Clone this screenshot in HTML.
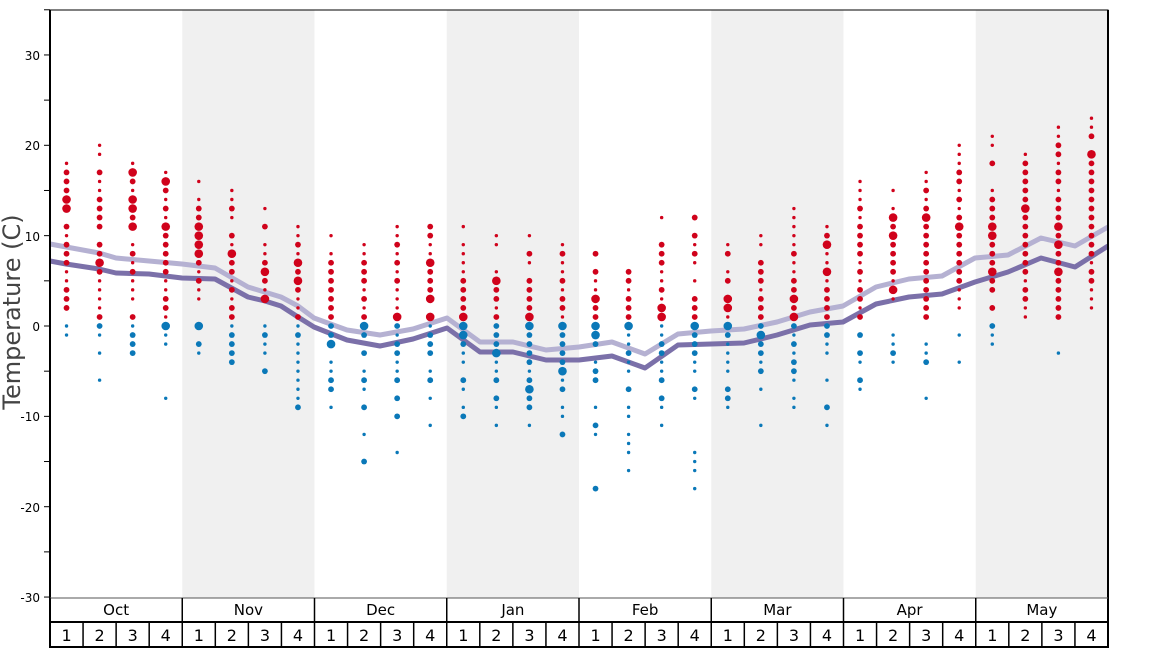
<!DOCTYPE html>
<html><head><meta charset="utf-8"><style>
html,body{margin:0;padding:0;background:#fff;}
svg{display:block;font-family:"DejaVu Sans","Liberation Sans",sans-serif;}
</style></head><body>
<svg id="s" width="1168" height="648" viewBox="0 0 1168 648" xmlns="http://www.w3.org/2000/svg">
<rect x="182.25" y="10" width="132.25" height="588" fill="#f0f0f0"/>
<rect x="446.75" y="10" width="132.25" height="588" fill="#f0f0f0"/>
<rect x="711.25" y="10" width="132.25" height="588" fill="#f0f0f0"/>
<rect x="975.75" y="10" width="132.25" height="588" fill="#f0f0f0"/>
<g id="ticks" stroke="#000" stroke-width="1"></g>
<g font-size="12" text-anchor="end" fill="#000">
<text x="40" y="60">30</text><text x="40" y="150">20</text><text x="40" y="241">10</text>
<text x="40" y="331">0</text><text x="40" y="421">-10</text><text x="40" y="512">-20</text><text x="40" y="602">-30</text>
</g>
<text transform="translate(20,312) rotate(-90)" font-size="24" text-anchor="middle" fill="#444">Temperature (C)</text>
<polyline fill="none" stroke="#b5b1d2" stroke-width="5" stroke-linejoin="round" points="50,244 99,253 116,258 149,261 182,264 215,268 248,287 281,297 298,306 314,318 347,330 380,335 413,329 447,318 480,342 513,342 546,350 579,347 612,342 645,354 678,334 711,331 744,329 777,322 810,312 843,306 876,287 909,279 942,276 975,258 1008,255 1041,238 1075,246 1108,227"/>
<polyline fill="none" stroke="#7b70a9" stroke-width="5" stroke-linejoin="round" points="50,261 66,264 99,269 116,273 149,274 182,278 215,279 248,297 265,301 281,306 298,317 314,327 347,340 380,346 413,339 447,328 480,352 513,352 546,360 579,360 612,356 645,368 678,345 711,344 744,343 777,335 810,325 843,322 876,304 909,297 942,294 975,282 1008,272 1041,258 1075,267 1108,246"/>
<g id="dots"></g>
<rect x="50" y="10" width="1058" height="588" fill="none" stroke="#000" stroke-width="1"/>
<line x1="50" y1="10" x2="50" y2="648" stroke="#000" stroke-width="2"/>
<line x1="1108" y1="10" x2="1108" y2="648" stroke="#000" stroke-width="2"/>
<line x1="50" y1="598" x2="1108" y2="598" stroke="#555" stroke-width="1"/>
<line x1="50" y1="622" x2="1108" y2="622" stroke="#000" stroke-width="2"/>
<line x1="50" y1="647" x2="1108" y2="647" stroke="#000" stroke-width="2"/>
<g id="axis" font-size="16" text-anchor="middle" fill="#000"></g>
</svg>
<script>
var ns="http://www.w3.org/2000/svg";
function el(t,a,p,txt){var e=document.createElementNS(ns,t);for(var k in a)e.setAttribute(k,a[k]);if(txt)e.textContent=txt;document.getElementById(p).appendChild(e);}
var Y=function(v){return 326-v*9.035;};
for(var v=-30;v<=35;v+=5){el('line',{x1:44,x2:50,y1:Y(v),y2:Y(v)},'ticks');}
var months=["Oct","Nov","Dec","Jan","Feb","Mar","Apr","May"],mw=132.25,ww=mw/4;
months.forEach(function(m,i){var x0=50+i*mw;
el('text',{x:x0+mw/2,y:615,'font-size':15},'axis',m);
el('line',{x1:x0,x2:x0,y1:598,y2:622,stroke:'#000','stroke-width':1.5},'axis');
for(var w=0;w<4;w++){var wx=x0+w*ww;el('line',{x1:wx,x2:wx,y1:622,y2:648,stroke:'#000','stroke-width':1.5},'axis');
el('text',{x:wx+ww/2,y:641},'axis',String(w+1));}});
var D=[
"18s 17m 16m 15m 14l 13l 11m 10s 9m 8m 7m 6s 5s 4m 3m 2m 0s -1s",
"20s 19s 17m 16s 15s 14m 13m 12m 11m 9m 8m 7l 6m 5s 4s 3s 2s 1m 0m -1s -3s -6s",
"18s 17l 16m 15s 14l 13l 12m 11l 9s 8m 7s 6m 5s 4s 3s 1m 0s -1m -2m -3m",
"17s 16l 15m 14s 13m 12s 11l 10m 9m 8m 7m 6m 5s 4s 3m 2m 1s 0l -1s -2s -8s",
"16s 14s 13m 12m 11l 10l 9l 8l 7m 6s 5m 4s 3s 0l -2m -3s",
"15s 14s 13m 12s 10m 9s 8l 7m 6m 5s 4m 3s 2m 1m 0s -1m -2m -3m -4m",
"13s 11m 9s 8s 7m 6l 5m 4s 3l 0s -1m -2s -3s -5m",
"11s 10s 9m 8s 7l 6m 5l 4m 3s 2s 1m 0s -1m -2s -3s -4s -5s -6s -7s -8s -9m",
"10s 8s 7m 6m 5m 4m 3m 2m 1m 0m -1m -2l -4s -5s -6m -7m -9s",
"9s 8s 7m 6m 5m 4s 3m 2s 1m 0l -1m -3m -5s -6m -7s -9m -12s -15m",
"11s 10s 9m 8s 7m 6s 5m 4s 3s 2s 1l 0m -1s -2m -3m -4s -5s -6m -8m -10m -14s",
"11m 10m 9s 8s 7l 6m 5m 4m 3l 1l 0s -1m -2m -3m -5s -6m -8s -11s",
"11s 9s 8s 7s 6s 5m 4m 3m 2m 1l 0l -1l -2m -3s -4s -6m -7s -9s -10m",
"10s 9s 6s 5l 4m 3m 2s 1m 0m -1m -2m -3l -4s -5s -6m -8m -9s -11s",
"10s 8m 7s 5m 4m 3m 2m 1l 0l -1m -2m -3m -4m -5s -6m -7l -8m -9m -11s",
"9s 8m 7s 6s 5m 4s 3m 2m 1s 0l -1m -2m -3m -4m -5l -6s -7m -9s -10s -12m",
"8m 6m 5s 4s 3l 2m 1m 0l -1l -2m -4s -5m -6m -9s -11m -12s -18m",
"6m 5m 4s 3m 2m 1m 0l -1s -2s -3m -4s -5s -7m -9s -10s -12s -13s -14s -16s",
"12s 9m 8m 7m 6s 5s 4m 3s 2l 1l 0s -1s -2m -3m -4s -5s -6m -8m -9s -11s",
"12m 10m 9s 8m 7s 5s 3m 2m 1m 0l -1m -2m -3m -4s -5s -7m -8s -14s -15s -16s -18s",
"9s 8m 6s 5m 3l 2l 1s 0l -1m -2s -3s -4s -5s -7m -8m -9s",
"10s 9s 7m 6m 5m 4s 3m 2m 1m 0m -1l -2m -3m -4s -5m -7s -11s",
"13s 12s 11s 10s 9s 8m 7s 6s 5m 4m 3l 2m 1l 0m -1s -2m -3s -4m -5m -6s -8s -9s",
"11s 10m 9l 8s 7s 6l 5s 4m 3m 2m 1m 0m -1m -2s -3s -6s -9m -11s",
"16s 15s 14s 13m 12s 11m 10m 9m 8m 7s 6m 5s 4m 3m 2s 1m -1m -3m -4s -6m -7s",
"15s 13s 12l 11m 10l 9m 8m 7m 6m 5s 4l 3s -1s -2s -3m -4s",
"17s 16s 15m 14s 13m 12l 11m 10m 9m 8m 7m 6m 5m 4m 3m 2m 1m -2s -3s -4m -8s",
"20s 19s 18s 17m 16m 15s 14m 13s 12m 11l 10m 9m 8m 7m 6m 5m 4s 3s 2s -1s -4s",
"21s 20s 18m 15s 14m 13m 12m 11l 10l 9m 8m 7m 6l 5m 4m 2m 0m -1s -2s",
"19s 18m 17m 16m 15m 14m 13l 12m 11m 10m 9m 8m 7m 6m 5s 4m 3m 2s 1s",
"22s 21s 20m 19m 18s 17m 16m 15s 14m 13m 12m 11l 10m 9l 8m 7m 6l 5m 4m 3m 2m 1m -3s",
"23s 22s 21m 19l 18m 17m 16m 15m 14m 13m 12m 11m 10m 9m 8m 7s 6m 5m 4s 3s 2s"];
var R={s:1.7,m:2.9,l:4.3};
D.forEach(function(c,i){var x=50+ww*(i+0.5);c.split(' ').forEach(function(t){var v=parseFloat(t),s=t.slice(-1);
el('circle',{cx:x,cy:Y(v),r:R[s],fill:v>0?'#d0021b':'#0a78b8'},'dots');});});
</script>
</body></html>
